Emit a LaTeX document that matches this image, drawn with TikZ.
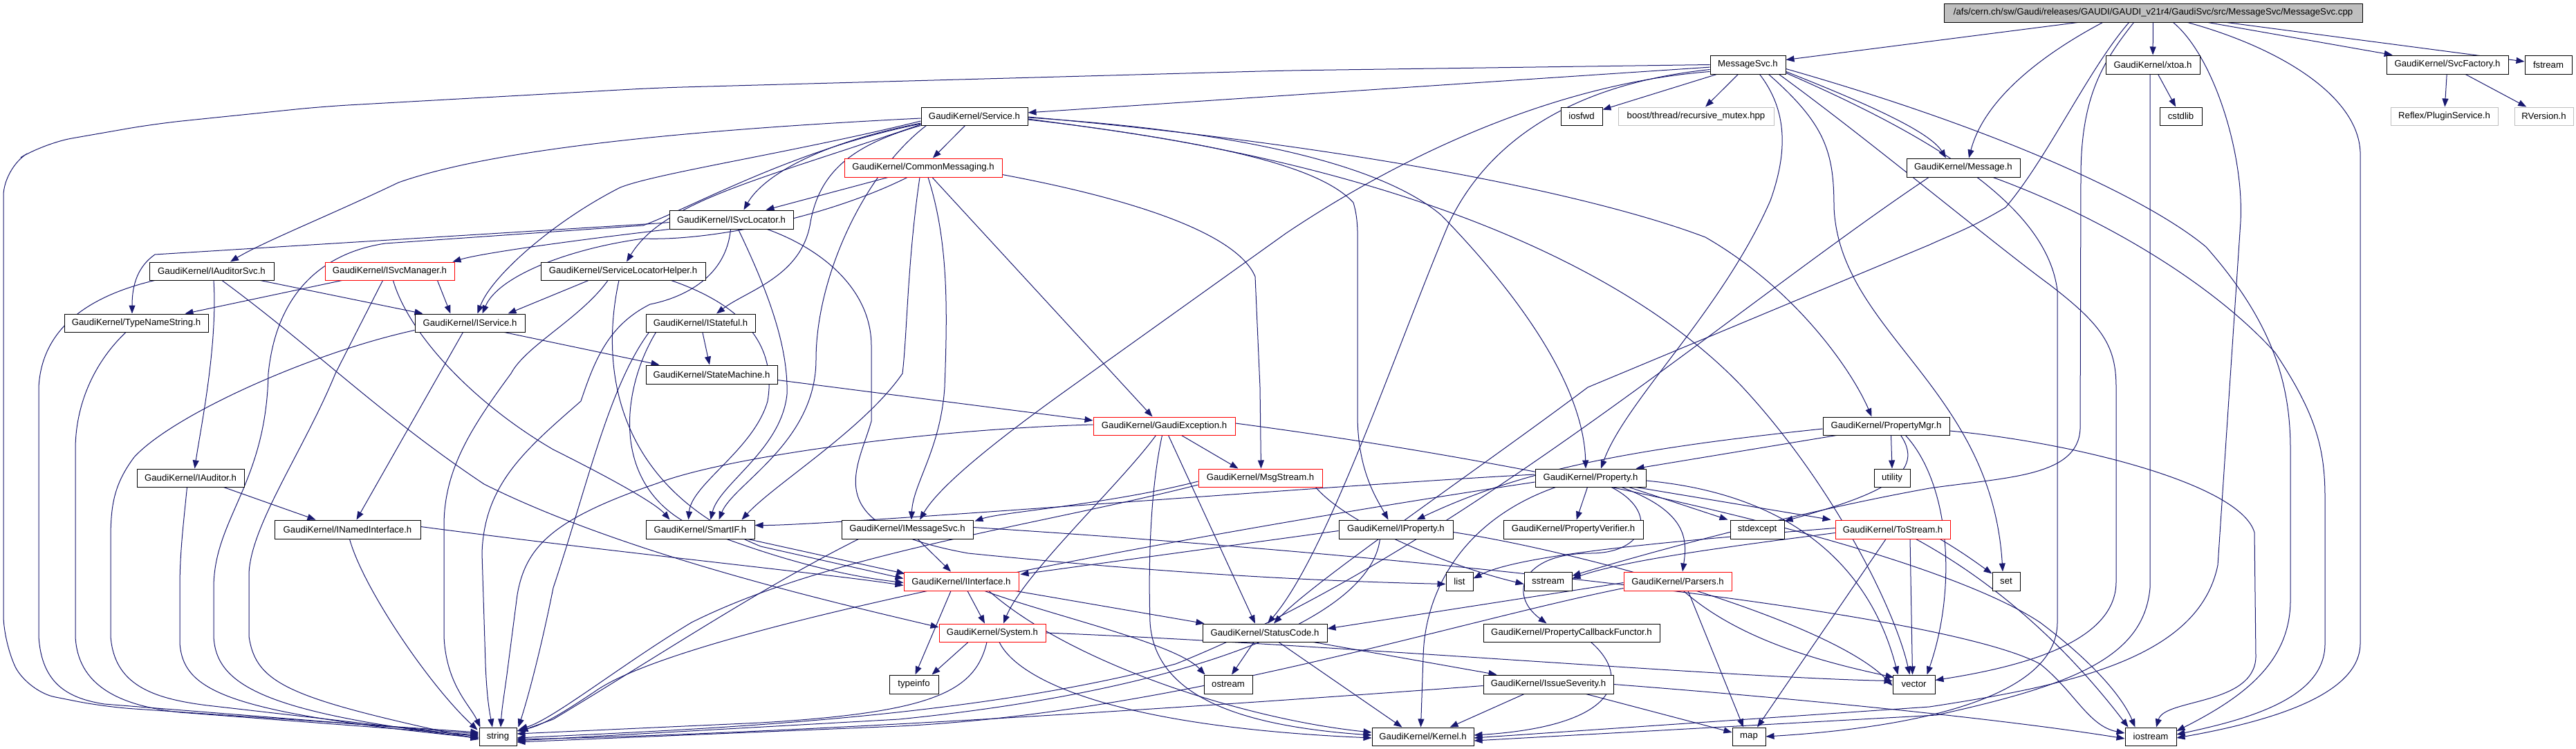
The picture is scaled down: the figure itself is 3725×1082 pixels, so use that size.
\documentclass[tikz,border=0pt]{standalone}
\usepackage{fontspec}
\newfontfamily\nf{Liberation Sans}
\usetikzlibrary{arrows.meta,calc}
\definecolor{ec}{HTML}{191970}
\definecolor{gb}{HTML}{BFBFBF}
\pgfdeclarelayer{bg}
\pgfsetlayers{bg,main}
\newcommand\mknode[7]{\node[#6, minimum width={(#4-#2)*1pt}, minimum height={(#5-#3)*1pt}] (#1) at ({(#2+#4)/2},{(#3+#5)/2}) {#7};}
\begin{document}
\begin{tikzpicture}[x=1pt,y=-1pt,
  box/.style={draw=black, fill=white, line width=1pt, inner sep=0pt, font={\nf\fontsize{13.2}{15}\selectfont}, text=black},
  rbox/.style={box, draw=red},
  gbox/.style={box, draw=gb},
  rootbox/.style={box, fill=gb},
  ln/.style={draw=ec, line width=1pt, -{Triangle[length=12pt,width=9pt]}}]
\useasboundingbox (0,0) rectangle (3725,1082);
% nodes
\mknode{root}{2811}{5}{3416}{32}{rootbox}{/afs/cern.ch/sw/Gaudi/releases/GAUDI/GAUDI\_v21r4/GaudiSvc/src/MessageSvc/MessageSvc.cpp}
\mknode{msvc}{2473}{80}{2582}{107}{box}{MessageSvc.h}
\mknode{xtoa}{3045}{80}{3181}{107}{box}{GaudiKernel/xtoa.h}
\mknode{svcf}{3451}{80}{3627}{107}{box}{GaudiKernel/SvcFactory.h}
\mknode{fstream}{3651}{80}{3719}{107}{box}{fstream}
\mknode{cstdlib}{3123}{155}{3184}{181}{box}{cstdlib}
\mknode{reflex}{3457}{155}{3612}{181}{gbox}{Reflex/PluginService.h}
\mknode{rversion}{3636}{155}{3721}{181}{gbox}{RVersion.h}
\mknode{iosfwd}{2257}{155}{2317}{181}{box}{iosfwd}
\mknode{boost}{2340}{155}{2565}{181}{gbox}{boost/thread/recursive\_mutex.hpp}
\mknode{service}{1332}{155}{1486}{181}{box}{GaudiKernel/Service.h}
\mknode{message}{2757}{229}{2921}{256}{box}{GaudiKernel/Message.h}
\mknode{commsg}{1221}{229}{1449}{256}{rbox}{GaudiKernel/CommonMessaging.h}
\mknode{isvcloc}{968}{304}{1147}{331}{box}{GaudiKernel/ISvcLocator.h}
\mknode{iauditorsvc}{216}{379}{396}{405}{box}{GaudiKernel/IAuditorSvc.h}
\mknode{isvcmgr}{470}{379}{657}{405}{rbox}{GaudiKernel/ISvcManager.h}
\mknode{slh}{782}{379}{1020}{405}{box}{GaudiKernel/ServiceLocatorHelper.h}
\mknode{typename}{93}{454}{301}{480}{box}{GaudiKernel/TypeNameString.h}
\mknode{iservice}{600}{454}{759}{480}{box}{GaudiKernel/IService.h}
\mknode{istateful}{934}{454}{1092}{480}{box}{GaudiKernel/IStateful.h}
\mknode{statemachine}{934}{528}{1124}{555}{box}{GaudiKernel/StateMachine.h}
\mknode{gexc}{1581}{603}{1786}{629}{rbox}{GaudiKernel/GaudiException.h}
\mknode{propmgr}{2636}{603}{2819}{629}{box}{GaudiKernel/PropertyMgr.h}
\mknode{iauditor}{198}{678}{353}{704}{box}{GaudiKernel/IAuditor.h}
\mknode{msgstream}{1733}{678}{1912}{704}{rbox}{GaudiKernel/MsgStream.h}
\mknode{property}{2220}{678}{2380}{704}{box}{GaudiKernel/Property.h}
\mknode{utility}{2710}{678}{2762}{704}{box}{utility}
\mknode{inamed}{397}{752}{608}{779}{box}{GaudiKernel/INamedInterface.h}
\mknode{smartif}{934}{752}{1091}{779}{box}{GaudiKernel/SmartIF.h}
\mknode{imsgsvc}{1217}{752}{1407}{779}{box}{GaudiKernel/IMessageSvc.h}
\mknode{iproperty}{1936}{752}{2101}{779}{box}{GaudiKernel/IProperty.h}
\mknode{propverif}{2174}{752}{2376}{779}{box}{GaudiKernel/PropertyVerifier.h}
\mknode{stdexcept}{2502}{752}{2580}{779}{box}{stdexcept}
\mknode{tostream}{2654}{752}{2820}{779}{rbox}{GaudiKernel/ToStream.h}
\mknode{iinterface}{1307}{827}{1473}{854}{rbox}{GaudiKernel/IInterface.h}
\mknode{list}{2091}{827}{2130}{854}{box}{list}
\mknode{sstream}{2204}{827}{2273}{854}{box}{sstream}
\mknode{parsers}{2348}{827}{2504}{854}{rbox}{GaudiKernel/Parsers.h}
\mknode{set}{2881}{827}{2921}{854}{box}{set}
\mknode{system}{1358}{902}{1512}{928}{rbox}{GaudiKernel/System.h}
\mknode{statuscode}{1739}{902}{1919}{928}{box}{GaudiKernel/StatusCode.h}
\mknode{propcb}{2145}{902}{2400}{928}{box}{GaudiKernel/PropertyCallbackFunctor.h}
\mknode{typeinfo}{1286}{976}{1357}{1003}{box}{typeinfo}
\mknode{ostream}{1741}{976}{1811}{1003}{box}{ostream}
\mknode{issuesev}{2145}{976}{2333}{1003}{box}{GaudiKernel/IssueSeverity.h}
\mknode{vector}{2737}{976}{2798}{1003}{box}{vector}
\mknode{string}{693}{1052}{747}{1078}{box}{string}
\mknode{kernel}{1984}{1052}{2131}{1078}{box}{GaudiKernel/Kernel.h}
\mknode{map}{2505}{1052}{2553}{1078}{box}{map}
\mknode{iostream}{3073}{1052}{3147}{1078}{box}{iostream}
\begin{pgfonlayer}{bg}
% ---- root
\draw[ln] (root) -- (msvc);
\draw[ln] ($(root.south)+(-73,0)$) .. controls (2960,75) and (2870,140) .. ($(message.north)+(8,0)$);
\draw[ln] (root) -- (xtoa);
\draw[ln] (root) -- (svcf);
\draw[ln] (root) -- (fstream);
\draw[ln] ($(root.south)+(-35,0)$) .. controls (3020,100) and (2960,230) .. (2900,300) .. controls (2850,330) and (2820,340) .. (2790,354) -- (2296,560) .. controls (2150,670) and (1900,840) .. ($(statuscode.north)+(13,0)$);
\draw[ln] ($(root.south)+(-28,0)$) .. controls (3040,90) and (3010,140) .. (3009,250) -- (3008,620) .. controls (3005,690) and (2900,690) .. (2790,706) .. controls (2600,740) and (2380,800) .. ($(sstream.east)+(0,-8)$);
\draw[ln] ($(root.south)+(50,0)$) .. controls (3300,70) and (3410,140) .. (3413,220) -- (3413,930) .. controls (3413,1000) and (3300,1040) .. ($(iostream.east)+(0,2)$);
\draw[ln] ($(root.south)+(29,0)$) .. controls (3200,80) and (3245,220) .. (3240,320) -- (3207,817) .. controls (3180,950) and (3000,990) .. (2790,1022) -- ($(kernel.east)+(0,2)$);
% ---- MessageSvc.h
\draw[ln, rounded corners=40pt] (msvc.west) -- (1860,102) -- (950,127) -- (467,154) -- (224,179) -- (64,207) -- (5,243) -- (5,930) -- (40,1000) -- (151,1022) -- ($(string.west)+(0,-6)$);
\draw[ln] (msvc) -- (service);
\draw[ln] (msvc) -- (iosfwd);
\draw[ln] (msvc) -- (boost);
\draw[ln] ($(msvc.south)+(17,0)$) .. controls (2585,160) and (2585,220) .. (2560,290) .. controls (2490,450) and (2350,580) .. ($(property.north)+(15,0)$);
\draw[ln] ($(msvc.west)+(0,10)$) .. controls (2200,125) and (1960,270) .. (1860,337) -- (1548,560) .. controls (1450,630) and (1360,700) .. ($(imsgsvc.north)+(18,0)$);
\draw[ln] ($(msvc.west)+(0,7)$) .. controls (2240,125) and (2140,230) .. (2096,321) .. controls (2020,500) and (1920,800) .. ($(statuscode.north)+(4,0)$);
\draw[ln] ($(msvc.east)+(0,10)$) .. controls (2700,150) and (2790,190) .. ($(message.north)+(-25,0)$);
\draw[ln] ($(msvc.east)+(0,6)$) .. controls (2900,190) and (3110,290) .. (3190,357) .. controls (3290,470) and (3312,560) .. (3312,650) -- (3312,868) .. controls (3312,960) and (3240,1010) .. ($(iostream.east)+(0,-8)$);
\draw[ln] ($(msvc.south)+(30,0)$) .. controls (2640,180) and (2652,220) .. (2652,300) .. controls (2660,480) and (2880,560) .. ($(set.north)+(-5,0)$);
\draw[ln] ($(msvc.south)+(45,0)$) .. controls (2700,200) and (2880,350) .. (2963,411) .. controls (3040,470) and (3060,500) .. (3060,560) -- (3060,841) .. controls (3060,920) and (2950,960) .. ($(vector.east)+(0,-6)$);
\draw[ln] ($(msvc.east)+(0,12)$) .. controls (2800,200) and (2960,300) .. (2975,420) -- (2975,900) .. controls (2975,1000) and (2800,1050) .. (map.east);
% ---- xtoa, svcfactory
\draw[ln] (xtoa) -- (cstdlib);
\draw[ln] ($(xtoa.south)+(-4,0)$) -- (3109,560) -- (3109,850) .. controls (3100,950) and (3000,990) .. (2800,1034) -- ($(kernel.east)+(0,6)$);
\draw[ln] (svcf) -- (reflex);
\draw[ln] (svcf) -- (rversion);
% ---- Message.h
\draw[ln] ($(message.south)+(-50,0)$) .. controls (2500,450) and (2100,800) .. (1700,960) .. controls (1400,1040) and (1000,1055) .. ($(string.east)+(0,2)$);
\draw[ln] ($(message.south)+(43,0)$) .. controls (3040,314) and (3200,410) .. (3290,510) .. controls (3350,600) and (3362,650) .. (3362,720) -- (3362,931) .. controls (3362,1010) and (3250,1040) .. ($(iostream.east)+(0,-3)$);
% ---- Service.h
\draw[ln] ($(service.west)+(0,3)$) .. controls (950,190) and (700,220) .. (576,264) .. controls (480,310) and (380,350) .. ($(iauditorsvc.north)+(27,0)$);
\draw[ln] ($(service.west)+(0,7)$) .. controls (1150,220) and (950,250) .. (897,271) .. controls (800,320) and (710,400) .. ($(iservice.north)+(11,0)$);
\draw[ln] ($(service.west)+(0,10)$) .. controls (1170,210) and (1100,260) .. ($(isvcloc.north)+(18,0)$);
\draw[ln] (service.south west) .. controls (1230,210) and (1185,250) .. (1172,321) .. controls (1160,400) and (1080,420) .. ($(istateful.north)+(23,0)$);
\draw[ln] ($(service.west)+(0,12)$) .. controls (1100,260) and (960,290) .. ($(slh.north)+(5,0)$);
\draw[ln] (service) -- (commsg);
\draw[ln] ($(service.south west)+(8,0)$) .. controls (1250,250) and (1180,400) .. (1180,520) .. controls (1180,640) and (1060,700) .. ($(smartif.north)+(27,0)$);
\draw[ln] ($(service.east)+(0,4)$) .. controls (1700,200) and (1900,230) .. (1957,293) .. controls (1965,320) and (1963,340) .. (1963,400) -- (1963,600) .. controls (1963,680) and (1990,720) .. ($(iproperty.north)+(-11,0)$);
\draw[ln] ($(service.east)+(0,2)$) .. controls (1800,190) and (2000,240) .. (2084,311) .. controls (2200,430) and (2290,560) .. ($(property.north)+(-7,0)$);
\draw[ln] ($(service.east)+(0,1)$) .. controls (1950,210) and (2300,280) .. (2466,343) .. controls (2600,420) and (2680,540) .. ($(propmgr.north)+(-21,0)$);
\draw[ln] ($(service.east)+(0,5)$) .. controls (2000,230) and (2350,380) .. (2520,560) .. controls (2650,700) and (2740,880) .. ($(vector.north)+(-6,0)$);
\draw[ln] ($(service.west)+(0,11)$) .. controls (1150,215) and (1000,300) .. (930,326) -- (557,352) .. controls (470,365) and (400,420) .. (388,540) .. controls (385,700) and (309,750) .. (309,850) -- (309,920) .. controls (312,990) and (380,1030) .. ($(string.west)+(0,2)$);
% ---- CommonMessaging.h
\draw[ln] ($(commsg.south)+(-51,0)$) -- ($(isvcloc.north east)+(-40,0)$);
\draw[ln] ($(commsg.south)+(-23,0)$) .. controls (1203,311) and (1033,349) .. (930,345) .. controls (820,360) and (720,400) .. ($(iservice.north)+(18,0)$);
\draw[ln] ($(commsg.south)+(-5,0)$) .. controls (1312,380) and (1312,480) .. (1305,540) .. controls (1250,620) and (1120,700) .. ($(smartif.north east)+(-19,0)$);
\draw[ln] ($(commsg.south)+(7,0)$) .. controls (1372,350) and (1370,450) .. (1366,560) .. controls (1360,650) and (1320,700) .. ($(imsgsvc.north)+(6,0)$);
\draw[ln] ($(commsg.south)+(13,0)$) -- ($(gexc.north)+(-17,0)$);
\draw[ln] ($(commsg.east)+(0,10)$) .. controls (1650,290) and (1790,340) .. (1815,400) -- (1822,560) -- ($(msgstream.north)+(1,0)$);
% ---- ISvcLocator.h
\draw[ln] (isvcloc.south west) .. controls (850,345) and (700,365) .. ($(isvcmgr.north east)+(-3,0)$);
\draw[ln] ($(isvcloc.west)+(0,4)$) -- (950,323) -- (224,368) .. controls (200,385) and (191,410) .. ($(typename.north)+(-6,0)$);
\draw[ln] ($(isvcloc.south)+(-1,0)$) .. controls (1050,400) and (990,430) .. (940,440) .. controls (880,470) and (860,520) .. (840,580) .. controls (760,650) and (700,700) .. (697,800) -- (702,960) .. controls (704,1010) and (708,1030) .. ($(string.north)+(-8,0)$);
\draw[ln] ($(isvcloc.south)+(10,0)$) .. controls (1110,420) and (1140,500) .. (1138,570) .. controls (1130,650) and (1040,700) .. ($(smartif.north)+(15,0)$);
\draw[ln] ($(isvcloc.south east)+(-38,0)$) .. controls (1191,361) and (1260,420) .. (1260,500) -- (1260,609) .. controls (1240,680) and (1180,760) .. (1400,800) .. controls (1700,830) and (1900,840) .. ($(list.west)+(0,4)$);
% ---- IAuditorSvc.h
\draw[ln] ($(iauditorsvc.south east)+(-20,0)$) -- ($(iservice.north west)+(12,0)$);
\draw[ln] ($(iauditorsvc.south)+(3,0)$) .. controls (315,500) and (290,620) .. ($(iauditor.north)+(6,0)$);
\draw[ln] ($(iauditorsvc.south)+(15,0)$) .. controls (450,500) and (550,600) .. (700,700) .. controls (900,800) and (1200,870) .. ($(system.west)+(0,-8)$);
\draw[ln] ($(iauditorsvc.south west)+(8,0)$) .. controls (120,430) and (60,480) .. (56,560) -- (56,920) .. controls (60,990) and (100,1010) .. (151,1018) -- ($(string.west)+(0,-4)$);
% ---- ISvcManager.h
\draw[ln] ($(isvcmgr.south west)+(25,0)$) -- ($(typename.north east)+(-34,0)$);
\draw[ln] ($(isvcmgr.south east)+(-25,0)$) -- ($(iservice.north)+(-28,0)$);
\draw[ln] ($(isvcmgr.south)+(5,0)$) .. controls (590,480) and (680,580) .. (800,650) .. controls (900,700) and (950,730) .. ($(smartif.north west)+(35,0)$);
\draw[ln] ($(isvcmgr.south)+(-10,0)$) -- (485,540) .. controls (440,650) and (362,760) .. (360,830) -- (360,920) .. controls (370,990) and (420,1010) .. ($(string.west)+(0,4)$);
% ---- ServiceLocatorHelper.h
\draw[ln] ($(slh.south)+(-50,0)$) -- ($(iservice.north east)+(-25,0)$);
\draw[ln] ($(slh.south)+(-22,0)$) .. controls (840,460) and (760,500) .. (739,540) .. controls (680,620) and (642,680) .. (642,760) -- (642,920) .. controls (645,990) and (680,1020) .. ($(string.north west)+(2,0)$);
\draw[ln] ($(slh.south east)+(-50,0)$) .. controls (1100,450) and (1120,520) .. (1110,580) .. controls (1090,650) and (1000,700) .. ($(smartif.north west)+(62,0)$);
\draw[ln] ($(slh.south)+(-6,0)$) .. controls (870,520) and (880,700) .. (1100,790) -- ($(iinterface.west)+(0,-4)$);
% ---- TypeNameString, IService, IStateful, StateMachine
\draw[ln] ($(typename.south)+(-15,0)$) .. controls (140,520) and (109,580) .. (109,650) -- (109,920) .. controls (112,990) and (170,1020) .. (260,1030) -- ($(string.west)+(0,-2)$);
\draw[ln] ($(iservice.south)+(-10,0)$) -- ($(inamed.north)+(13,0)$);
\draw[ln] ($(iservice.south east)+(-30,0)$) -- ($(statemachine.north west)+(20,0)$);
\draw[ln] ($(iservice.south west)+(0,-3)$) .. controls (450,510) and (250,600) .. (194,661) .. controls (165,700) and (160,730) .. (160,780) -- (160,920) .. controls (165,990) and (220,1010) .. (300,1020) -- ($(string.west)+(0,0)$);
\draw[ln] (istateful) -- (statemachine);
\draw[ln] ($(istateful.south west)+(15,0)$) .. controls (900,560) and (880,700) .. (1000,760) .. controls (1100,800) and (1200,830) .. ($(iinterface.west)+(0,2)$);
\draw[ln] ($(istateful.south west)+(5,0)$) .. controls (880,560) and (850,700) .. (800,850) .. controls (780,950) and (760,1020) .. ($(string.north east)+(2,0)$);
\draw[ln] ($(statemachine.east)+(0,8)$) -- ($(gexc.west)+(0,-8)$);
% ---- GaudiException.h
\draw[ln] ($(gexc.south)+(25,0)$) -- ($(msgstream.north)+(-32,0)$);
\draw[ln] ($(gexc.south)+(6,0)$) -- ($(statuscode.north)+(-14,0)$);
\draw[ln] ($(gexc.south)+(-12,0)$) .. controls (1620,700) and (1480,830) .. ($(system.north)+(16,0)$);
\draw[ln] ($(gexc.south)+(-3,0)$) .. controls (1665,700) and (1660,800) .. (1663,900) .. controls (1670,1010) and (1800,1050) .. ($(kernel.west)+(0,-2)$);
\draw[ln] ($(gexc.east)+(0,-4)$) .. controls (2300,680) and (2800,800) .. (2950,900) .. controls (3030,960) and (3070,1010) .. ($(iostream.north west)+(15,0)$);
\draw[ln] ($(gexc.west)+(0,-2)$) .. controls (1350,620) and (1050,660) .. (950,699) .. controls (800,750) and (760,790) .. (748,860) -- (735,960) .. controls (730,1000) and (726,1020) .. ($(string.north)+(4,0)$);
% ---- IAuditor, INamedInterface
\draw[ln] ($(iauditor.south east)+(-30,0)$) -- ($(inamed.north west)+(60,0)$);
\draw[ln] ($(iauditor.south)+(-5,0)$) .. controls (265,760) and (260,800) .. (260,850) -- (260,930) .. controls (265,1000) and (330,1030) .. ($(string.west)+(0,2)$);
\draw[ln] ($(inamed.east)+(0,-4)$) .. controls (900,800) and (1200,830) .. ($(iinterface.west)+(0,6)$);
\draw[ln] ($(inamed.south)+(3,0)$) .. controls (525,850) and (620,990) .. ($(string.north west)+(-2,4)$);
% ---- MsgStream.h
\draw[ln] ($(msgstream.west)+(0,5)$) .. controls (1600,730) and (1450,740) .. ($(imsgsvc.north east)+(2,2)$);
\draw[ln] ($(msgstream.west)+(0,10)$) .. controls (1500,760) and (1200,800) .. (1000,900) .. controls (900,960) and (800,1040) .. ($(string.north east)+(3,3)$);
\draw[ln] ($(msgstream.south east)+(-10,0)$) .. controls (1950,760) and (2100,820) .. ($(sstream.west)+(0,4)$);
% ---- IMessageSvc.h
\draw[ln] ($(imsgsvc.south)+(15,0)$) -- ($(iinterface.north)+(-15,0)$);
\draw[ln] ($(imsgsvc.south west)+(25,0)$) .. controls (1100,850) and (950,950) .. (800,1040) -- ($(string.north east)+(4,6)$);
\draw[ln] ($(imsgsvc.east)+(0,-3)$) .. controls (2000,800) and (2800,880) .. (2950,960) .. controls (3000,1000) and (3020,1050) .. ($(iostream.west)+(0,-5)$);
% ---- SmartIF, IInterface
\draw[ln] ($(smartif.south east)+(-10,0)$) -- ($(iinterface.north west)+(2,3)$);
\draw[ln] ($(iinterface.south)+(-15,0)$) -- ($(typeinfo.north)+(2,0)$);
\draw[ln] ($(iinterface.south)+(9,0)$) -- ($(system.north)+(-11,0)$);
\draw[ln] ($(iinterface.south)+(34,0)$) .. controls (1520,890) and (1700,930) .. ($(ostream.north west)+(2,0)$);
\draw[ln] ($(iinterface.south)+(40,0)$) .. controls (1550,960) and (1800,1040) .. ($(kernel.west)+(0,-6)$);
\draw[ln] ($(iinterface.south east)+(-5,0)$) -- ($(statuscode.north west)+(3,0)$);
% ---- System.h
\draw[ln] ($(system.south)+(-35,0)$) -- ($(typeinfo.north east)+(-10,0)$);
\draw[ln] ($(system.south)+(-8,0)$) .. controls (1410,1000) and (1350,1030) .. (1100,1045) -- ($(string.east)+(0,-4)$);
\draw[ln] ($(system.south)+(10,0)$) .. controls (1470,980) and (1600,1050) .. ($(kernel.west)+(0,2)$);
\draw[ln] (system.east) .. controls (1900,930) and (2500,980) .. ($(vector.west)+(0,-5)$);
% ---- StatusCode.h
\draw[ln] ($(statuscode.south)+(-16,0)$) -- ($(ostream.north)+(5,0)$);
\draw[ln] ($(statuscode.south east)+(-20,0)$) -- ($(issuesev.north west)+(20,0)$);
\draw[ln] ($(statuscode.south)+(20,0)$) -- ($(kernel.north)+(-30,0)$);
% ---- IssueSeverity.h
\draw[ln] ($(issuesev.south)+(-35,0)$) -- ($(kernel.north)+(39,0)$);
\draw[ln] ($(issuesev.south east)+(-40,0)$) -- ($(map.west)+(0,-6)$);
\draw[ln] (issuesev.east) .. controls (2600,1010) and (2900,1040) .. ($(iostream.west)+(0,3)$);
\draw[ln] ($(issuesev.west)+(0,2)$) .. controls (1900,1010) and (1200,1060) .. ($(string.east)+(0,4)$);
% ---- PropertyMgr.h
\draw[ln] ($(propmgr.south west)+(20,0)$) -- ($(property.north east)+(-15,0)$);
\draw[ln] ($(propmgr.west)+(0,4)$) .. controls (2350,650) and (2200,680) .. ($(iproperty.north east)+(-53,0)$);
\draw[ln] ($(propmgr.south)+(7,0)$) -- (utility.north);
\draw[ln] ($(propmgr.south)+(21,0)$) .. controls (2790,690) and (2700,720) .. ($(stdexcept.north east)+(0,2)$);
\draw[ln] ($(propmgr.south)+(28,0)$) .. controls (2820,700) and (2830,850) .. ($(vector.north east)+(-12,0)$);
\draw[ln] ($(propmgr.east)+(0,7)$) .. controls (3000,640) and (3240,700) .. (3260,770) -- (3262,950) .. controls (3260,1020) and (3130,1010) .. ($(iostream.north)+(8,0)$);
% ---- Property.h
\draw[ln] (property) -- (propverif);
\draw[ln] ($(property.south)+(30,0)$) .. controls (2400,740) and (2380,800) .. (2300,800) .. controls (2200,800) and (2180,860) .. ($(propcb.north)+(-36,0)$);
\draw[ln] ($(property.south east)+(-25,0)$) -- ($(stdexcept.north west)+(-3,0)$);
\draw[ln] ($(property.south east)+(-15,0)$) -- ($(tostream.north west)+(-6,0)$);
\draw[ln] ($(property.south)+(45,0)$) .. controls (2440,740) and (2440,780) .. ($(parsers.north)+(7,0)$);
\draw[ln] ($(property.south west)+(30,0)$) .. controls (2120,750) and (2060,850) .. (2058,950) -- ($(kernel.north)+(-3,0)$);
\draw[ln] ($(property.west)+(0,-5)$) .. controls (1950,700) and (1200,760) .. ($(smartif.east)+(0,-6)$);
\draw[ln] ($(property.west)+(0,6)$) .. controls (1800,760) and (1000,900) .. (860,1000) .. controls (800,1040) and (780,1050) .. ($(string.east)+(0,-8)$);
\draw[ln] ($(property.east)+(0,4)$) .. controls (2650,720) and (2720,880) .. ($(vector.north west)+(8,0)$);
% ---- IProperty.h
\draw[ln] ($(iproperty.west)+(0,2)$) -- ($(iinterface.north east)+(2,4)$);
\draw[ln] ($(iproperty.south west)+(60,0)$) .. controls (1980,900) and (1700,1000) .. (1300,1040) -- ($(string.east)+(0,6)$);
\draw[ln] ($(iproperty.east)+(0,4)$) .. controls (2300,800) and (2650,900) .. ($(vector.west)+(0,2)$);
% ---- ToStream.h
\draw[ln] ($(tostream.west)+(0,-2)$) .. controls (2450,780) and (2200,800) .. ($(list.east)+(0,-4)$);
\draw[ln] ($(tostream.west)+(0,5)$) .. controls (2500,790) and (2350,810) .. ($(sstream.east)+(0,-4)$);
\draw[ln] ($(tostream.south east)+(-15,0)$) .. controls (2840,800) and (2860,815) .. ($(set.north west)+(0,3)$);
\draw[ln] ($(tostream.south)+(25,0)$) -- ($(vector.north)+(-2,0)$);
\draw[ln] ($(tostream.south)+(-10,0)$) -- ($(map.north)+(12,0)$);
\draw[ln] ($(tostream.south east)+(-50,0)$) .. controls (2900,850) and (3000,950) .. ($(iostream.north west)+(5,0)$);
% ---- Parsers.h
\draw[ln] ($(parsers.west)+(0,2)$) -- ($(statuscode.east)+(0,-6)$);
\draw[ln] ($(parsers.west)+(0,10)$) .. controls (2100,900) and (1700,1030) .. (1300,1050) -- ($(string.east)+(0,8)$);
\draw[ln] ($(parsers.south)+(15,0)$) -- ($(map.north)+(-8,0)$);
\draw[ln] ($(parsers.south east)+(-70,0)$) .. controls (2520,930) and (2650,960) .. ($(vector.north west)+(2,4)$);
% ---- PropertyCallbackFunctor.h
\draw[ln] ($(propcb.south)+(28,0)$) .. controls (2360,980) and (2340,1050) .. ($(kernel.east)+(0,-2)$);
\end{pgfonlayer}
\end{tikzpicture}
\end{document}
